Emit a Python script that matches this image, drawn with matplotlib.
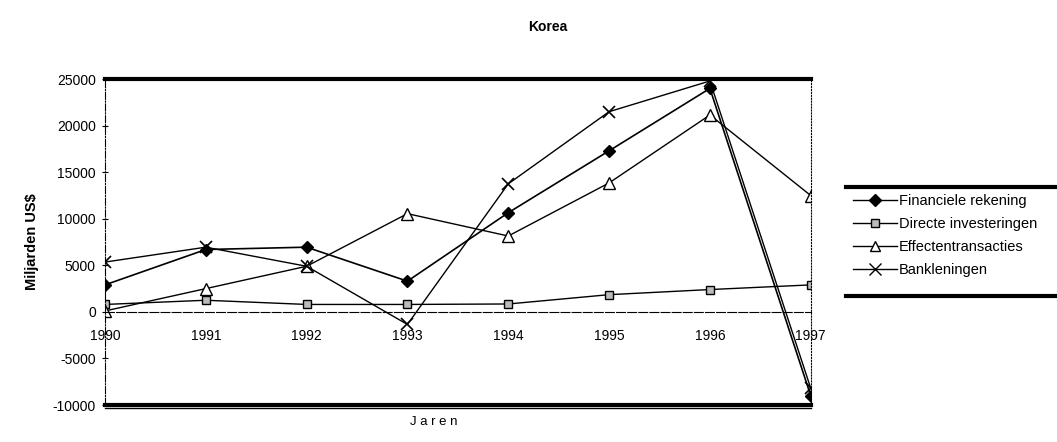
import matplotlib.pyplot as plt
from matplotlib.lines import Line2D

plt.rcParams['font.family'] = ['Liberation Sans', 'DejaVu Sans']
plt.rcParams['axes.unicode_minus'] = False

jaren = [1990, 1991, 1992, 1993, 1994, 1995, 1996, 1997]

financiele_rekening = [2900, 6700, 6950, 3300, 10650, 17300, 24000, -9000]
directe_investeringen = [800, 1250, 800, 800, 850, 1850, 2400, 2900]
effectentransacties = [100, 2500, 4900, 10550, 8150, 13850, 21150, 12500]
bankleningen = [5350, 6950, 4900, -1350, 13750, 21500, 24800, -8200]

labels = ["Financiele rekening", "Directe investeringen",
          "Effectentransacties", "Bankleningen"]

fig = plt.figure(figsize=(10.57, 4.42), dpi=100)
ax = fig.add_axes([0.0993, 0.0837, 0.6677, 0.7373])

ax.plot(jaren, financiele_rekening, color='black', lw=1.2, marker='D',
        ms=6, mfc='black', mec='black')
ax.plot(jaren, directe_investeringen, color='black', lw=1.0, marker='s',
        ms=6, mfc='#bbbbbb', mec='black')
ax.plot(jaren, effectentransacties, color='black', lw=1.0, marker='^',
        ms=8, mfc='white', mec='black')
ax.plot(jaren, bankleningen, color='black', lw=1.0, marker='x',
        ms=9, mew=1.2)

ax.set_xlim(1990, 1997)
ax.set_ylim(-10000, 25000)
ax.set_yticks(range(-10000, 25001, 5000))
ax.set_xticks(jaren)

# x axis drawn through zero, thick rules at top and bottom
ax.spines['bottom'].set_position(('data', 0))
ax.spines['bottom'].set_linewidth(0.8)
ax.spines['bottom'].set_linestyle((0, (8, 2)))
ax.spines['top'].set_linewidth(3)
ax.spines['left'].set_linestyle('-.')
ax.spines['left'].set_linewidth(0.8)
ax.spines['right'].set_linestyle(':')
ax.spines['right'].set_linewidth(0.8)
ax.axhline(-10000, color='black', lw=3, clip_on=False)
ax.plot([0, 1], [-0.009, -0.009], transform=ax.transAxes, color='black',
        lw=1, clip_on=False)

ax.tick_params(axis='y', direction='inout', length=5, width=0.8,
               labelsize=10, pad=4)
ax.tick_params(axis='x', length=0, labelsize=10, pad=12)

fig.text(0.518, 0.94, "Korea", ha='center', va='center', fontsize=10,
         fontweight='bold')
ax.set_ylabel("Miljarden US$", fontsize=10.5, fontweight='bold', labelpad=10)
fig.text(0.41, 0.045, "J a r e n", ha='center', va='center', fontsize=9.5)

handles = [
    Line2D([], [], color='black', lw=1, marker='D', ms=6, mfc='black'),
    Line2D([], [], color='black', lw=1, marker='s', ms=6, mfc='#bbbbbb',
           mec='black'),
    Line2D([], [], color='black', lw=1, marker='^', ms=7, mfc='white',
           mec='black'),
    Line2D([], [], color='black', lw=1, marker='x', ms=8),
]
fig.legend(handles, labels, loc='center left', bbox_to_anchor=(0.795, 0.467),
           frameon=False, fontsize=10.5, handlelength=3.0, handletextpad=0.1,
           labelspacing=0.6)
fig.add_artist(Line2D([0.80, 1.0], [0.577, 0.577], color='black', lw=3))
fig.add_artist(Line2D([0.80, 1.0], [0.330, 0.330], color='black', lw=3))

fig.savefig("out.png", dpi=100)
